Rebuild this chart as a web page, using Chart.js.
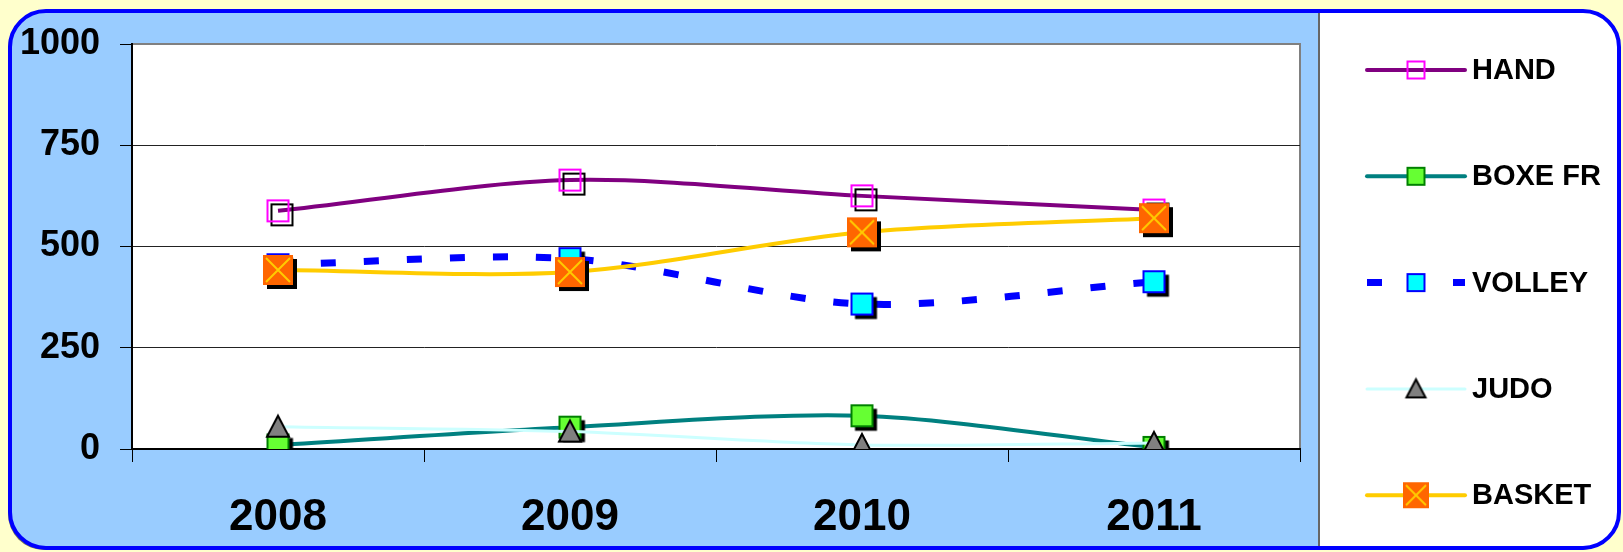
<!DOCTYPE html>
<html>
<head>
<meta charset="utf-8">
<script src="https://cdn.jsdelivr.net/npm/chart.js@4"></script>
<style>
  html, body { margin: 0; padding: 0; background: #FFFFCC; }
  canvas { display: block; }
</style>
</head>
<body>
<canvas id="myChart" width="1623" height="552"></canvas>
<script>
const years = ['2008', '2009', '2010', '2011'];
const hand = [588, 664, 625, 590];
const boxeFr = [10, 54, 82, 4];
const volley = [455, 470, 358, 413];
const judo = [55, 43, 10, 15];
const basket = [442, 437, 535, 570];
const yTicks = [0, 250, 500, 750, 1000];

const FONT = "'Liberation Sans', Arial, sans-serif";

// marker images (Excel-like markers with a drop shadow)
function makeMarker(size, shadow, draw) {
    const c = document.createElement('canvas');
    c.width = c.height = Math.ceil((size / 2 + shadow + 3) * 2);
    const g = c.getContext('2d');
    const m = c.width / 2;
    draw(g, m, m, size, shadow);
    return c;
}

function square(g, cx, cy, s, fill, stroke, lw) {
    g.beginPath();
    g.rect(cx - s / 2, cy - s / 2, s, s);
    if (fill) { g.fillStyle = fill; g.fill(); }
    if (stroke) { g.strokeStyle = stroke; g.lineWidth = lw; g.stroke(); }
}

function handMarker(size, sh) {
    return makeMarker(size, sh, (g, cx, cy, s) => {
        if (sh) square(g, cx + sh, cy + sh, s, null, '#000', 2);
        square(g, cx, cy, s, null, '#FF00FF', 2);
    });
}
function boxeMarker(size, sh) {
    return makeMarker(size, sh, (g, cx, cy, s) => {
        if (sh) square(g, cx + sh, cy + sh, s + 1, '#000');
        square(g, cx, cy, s, '#66FF33', '#008000', 2);
    });
}
function volleyMarker(size, sh) {
    return makeMarker(size, sh, (g, cx, cy, s) => {
        if (sh) square(g, cx + sh, cy + sh, s + 1, '#000');
        square(g, cx, cy, s, '#00FFFF', '#0000FF', 2);
    });
}
function judoMarker(size, sh) {
    return makeMarker(size, sh, (g, cx, cy, s) => {
        g.beginPath();
        g.moveTo(cx, cy - s / 2);
        g.lineTo(cx + s / 2, cy + s / 2 - 1);
        g.lineTo(cx - s / 2, cy + s / 2 - 1);
        g.closePath();
        g.fillStyle = '#808080';
        g.fill();
        g.strokeStyle = '#000';
        g.lineWidth = 2;
        g.stroke();
    });
}
function basketMarker(size, sh) {
    return makeMarker(size, sh, (g, cx, cy, s) => {
        if (sh) square(g, cx + sh, cy + sh, s, '#000');
        square(g, cx, cy, s, '#FF6600');
        const d = s / 2 - 3;
        g.beginPath();
        g.moveTo(cx - d, cy - d); g.lineTo(cx + d, cy + d);
        g.moveTo(cx + d, cy - d); g.lineTo(cx - d, cy + d);
        g.strokeStyle = '#FFCC00';
        g.lineWidth = 2;
        g.stroke();
    });
}

function roundRectPath(ctx, x, y, w, h, r) {
    ctx.beginPath();
    ctx.moveTo(x + r, y);
    ctx.lineTo(x + w - r, y);
    ctx.arcTo(x + w, y, x + w, y + r, r);
    ctx.lineTo(x + w, y + h - r);
    ctx.arcTo(x + w, y + h, x + w - r, y + h, r);
    ctx.lineTo(x + r, y + h);
    ctx.arcTo(x, y + h, x, y + h - r, r);
    ctx.lineTo(x, y + r);
    ctx.arcTo(x, y, x + r, y, r);
    ctx.closePath();
}

const frame = { x: 10, y: 11, w: 1609, h: 537, r: 36 };
const legendLeft = 1320;

const backgroundPlugin = {
    id: 'background',
    beforeDraw(chart) {
        const ctx = chart.ctx;
        const a = chart.chartArea;
        ctx.save();
        ctx.fillStyle = '#FFFFCC';
        ctx.fillRect(0, 0, chart.width, chart.height);

        // outer frame
        ctx.save();
        ctx.shadowColor = 'rgba(0,0,0,0.55)';
        ctx.shadowOffsetX = -2;
        ctx.shadowOffsetY = 2;
        roundRectPath(ctx, frame.x, frame.y, frame.w, frame.h, frame.r);
        ctx.fillStyle = '#99CCFF';
        ctx.fill();
        ctx.restore();

        // legend box
        ctx.save();
        roundRectPath(ctx, frame.x, frame.y, frame.w, frame.h, frame.r);
        ctx.clip();
        ctx.fillStyle = '#FFFFFF';
        ctx.fillRect(legendLeft, 0, chart.width - legendLeft, chart.height);
        ctx.fillStyle = '#666666';
        ctx.fillRect(legendLeft - 2, 0, 2, chart.height);
        ctx.restore();

        roundRectPath(ctx, frame.x, frame.y, frame.w, frame.h, frame.r);
        ctx.strokeStyle = '#0000FF';
        ctx.lineWidth = 4;
        ctx.stroke();

        // plot area
        ctx.fillStyle = '#FFFFFF';
        ctx.fillRect(a.left, a.top, a.right - a.left, a.bottom - a.top);
        ctx.strokeStyle = '#808080';
        ctx.lineWidth = 2;
        ctx.beginPath();
        ctx.moveTo(a.left, a.top);
        ctx.lineTo(a.right, a.top);
        ctx.lineTo(a.right, a.bottom);
        ctx.stroke();
        ctx.restore();
    }
};

const legendPlugin = {
    id: 'sideLegend',
    afterDraw(chart) {
        const ctx = chart.ctx;
        const x0 = 1367, x1 = 1465, top = 70, step = 106.3;
        ctx.save();
        chart.data.datasets.forEach((ds, i) => {
            const y = top + i * step;
            ctx.beginPath();
            ctx.moveTo(x0, y);
            ctx.lineTo(x1, y);
            ctx.strokeStyle = ds.borderColor;
            ctx.lineWidth = ds.borderWidth;
            ctx.lineCap = ds.borderDash ? 'butt' : 'round';
            ctx.setLineDash(ds.borderDash || []);
            ctx.stroke();
            ctx.setLineDash([]);
            const img = ds.legendMarker;
            ctx.drawImage(img, (x0 + x1) / 2 - img.width / 2, y - img.height / 2);
            ctx.fillStyle = '#000';
            ctx.font = 'bold 29px ' + FONT;
            ctx.textBaseline = 'middle';
            ctx.fillText(ds.label, 1472, y + 1);
        });
        ctx.restore();
    }
};

const ctx = document.getElementById('myChart').getContext('2d');

const myChart = new Chart(ctx, {
    type: 'line',
    data: {
        labels: years,
        datasets: [{
            label: 'HAND',
            data: hand,
            borderColor: '#800080',
            borderWidth: 4,
            pointStyle: handMarker(21, 4),
            legendMarker: handMarker(17, 0),
            order: 5
        }, {
            label: 'BOXE FR',
            data: boxeFr,
            borderColor: '#008080',
            borderWidth: 4,
            pointStyle: boxeMarker(21, 4),
            legendMarker: boxeMarker(17, 0),
            order: 4
        }, {
            label: 'VOLLEY',
            data: volley,
            borderColor: '#0000FF',
            borderWidth: 7,
            borderDash: [15, 28],
            pointStyle: volleyMarker(21, 4),
            legendMarker: volleyMarker(17, 0),
            order: 3
        }, {
            label: 'JUDO',
            data: judo,
            borderColor: '#CCFFFF',
            borderWidth: 3,
            pointStyle: judoMarker(22, 0),
            legendMarker: judoMarker(19, 0),
            order: 2
        }, {
            label: 'BASKET',
            data: basket,
            borderColor: '#FFCC00',
            borderWidth: 4,
            pointStyle: basketMarker(30, 4),
            legendMarker: basketMarker(26, 0),
            order: 1
        }]
    },
    options: {
        responsive: false,
        animation: false,
        events: [],
        layout: { padding: { left: 0, top: 44, right: 323, bottom: 0 } },
        elements: {
            line: { tension: 0.3, fill: false },
            point: { radius: 10 }
        },
        plugins: {
            legend: { display: false },
            tooltip: { enabled: false }
        },
        scales: {
            x: {
                offset: true,
                grid: {
                    offset: true,
                    drawOnChartArea: false,
                    tickLength: 13,
                    color: '#000',
                    lineWidth: 1
                },
                border: { color: '#000', width: 2 },
                ticks: {
                    color: '#000',
                    padding: 29,
                    font: { family: FONT, size: 44, weight: 'bold' }
                },
                afterFit(s) {
                    s.height = 103;
                    s.paddingLeft = 0;
                    s.paddingRight = 0;
                }
            },
            y: {
                min: 0,
                max: 1000,
                afterBuildTicks(s) {
                    s.ticks = yTicks.map(v => ({ value: v }));
                },
                grid: {
                    tickLength: 12,
                    color: c => (c.tick && c.tick.value === 1000) ? '#808080' : '#222',
                    tickColor: '#000',
                    lineWidth: 1
                },
                border: { color: '#000', width: 2 },
                ticks: {
                    color: '#000',
                    padding: 20,
                    font: { family: FONT, size: 36, weight: 'bold' },
                    callback: v => String(v)
                },
                afterFit(s) {
                    s.width = 132;
                    s.paddingTop = 0;
                    s.paddingBottom = 0;
                }
            }
        }
    },
    plugins: [backgroundPlugin, legendPlugin]
});
</script>
</body>
</html>
